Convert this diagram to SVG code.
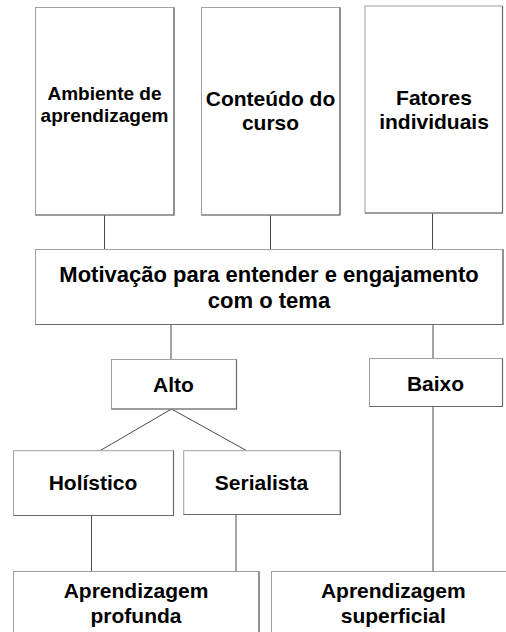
<svg xmlns="http://www.w3.org/2000/svg" width="506" height="632" viewBox="0 0 506 632">
<style>
.box{fill:#fff;stroke:#a0a0a0;stroke-width:1}
.sh{fill:none;stroke:#6a6a6a;stroke-width:1.2}
.t{font-family:"Liberation Sans",Arial,sans-serif;font-weight:bold;fill:#000;text-anchor:middle}
.c{stroke:#4a4a4a;stroke-width:1;fill:none}
</style>
<rect width="506" height="632" fill="#fff"/>
<g id="connectors">
<line class="c" x1="104.5" y1="215" x2="104.5" y2="249.5"/>
<line class="c" x1="270.5" y1="215" x2="270.5" y2="249.5"/>
<line class="c" x1="432.5" y1="213" x2="432.5" y2="249.5"/>
<line class="c" x1="171" y1="324.5" x2="171" y2="359.5"/>
<line class="c" x1="433" y1="324.5" x2="433" y2="358.5"/>
<line class="c" x1="171.5" y1="409" x2="100" y2="450.7"/>
<line class="c" x1="171.5" y1="409" x2="246.7" y2="450.7"/>
<line class="c" x1="91.5" y1="515.5" x2="91.5" y2="571.5"/>
<line class="c" x1="236" y1="514.5" x2="236" y2="571.5"/>
<line class="c" x1="433" y1="406.5" x2="433" y2="571.5"/>
</g>
<g id="ambiente">
<rect class="box" x="35.5" y="7.5" width="138.5" height="207.5"/>
<path class="sh" d="M174 7.5V215H35.5"/>
<text class="t" font-size="19" x="104.5" y="100">Ambiente de</text>
<text class="t" font-size="19" x="104.5" y="121.5">aprendizagem</text>
</g>
<g id="conteudo">
<rect class="box" x="201.5" y="7.5" width="138.5" height="207.5"/>
<path class="sh" d="M340 7.5V215H201.5"/>
<text class="t" font-size="21" x="270.5" y="106">Conteúdo do</text>
<text class="t" font-size="21" x="270.5" y="129.5">curso</text>
</g>
<g id="fatores">
<rect class="box" x="365" y="6" width="137.5" height="207"/>
<path class="sh" d="M502.5 6V213H365"/>
<text class="t" font-size="21" x="434" y="105">Fatores</text>
<text class="t" font-size="21" x="434" y="129">individuais</text>
</g>
<g id="motivacao">
<rect class="box" x="35.5" y="249.5" width="467.5" height="75"/>
<path class="sh" d="M503 249.5V324.5H35.5"/>
<text class="t" font-size="22" x="269" y="281.7">Motivação para entender e engajamento</text>
<text class="t" font-size="22" x="269" y="308">com o tema</text>
</g>
<g id="alto">
<rect class="box" x="111.5" y="359.5" width="125" height="49.5"/>
<path class="sh" d="M236.5 359.5V409H111.5"/>
<text class="t" font-size="21" x="173.5" y="391.7">Alto</text>
</g>
<g id="baixo">
<rect class="box" x="369.5" y="358.5" width="133" height="48"/>
<path class="sh" d="M502.5 358.5V406.5H369.5"/>
<text class="t" font-size="21" x="435.5" y="390.5">Baixo</text>
</g>
<g id="holistico">
<rect class="box" x="13.5" y="450.7" width="160" height="64.8"/>
<path class="sh" d="M173.5 450.7V515.5H13.5"/>
<text class="t" font-size="21" x="93" y="490">Holístico</text>
</g>
<g id="serialista">
<rect class="box" x="183.7" y="450.7" width="156.6" height="63.8"/>
<path class="sh" d="M340.3 450.7V514.5H183.7"/>
<text class="t" font-size="21" x="261.5" y="490">Serialista</text>
</g>
<g id="profunda">
<rect class="box" x="13.5" y="571.5" width="245.5" height="80"/>
<path class="sh" d="M259 571.5V652"/>
<text class="t" font-size="21" x="136" y="598">Aprendizagem</text>
<text class="t" font-size="21" x="136" y="623">profunda</text>
</g>
<g id="superficial">
<rect class="box" x="271.5" y="571.5" width="250" height="80"/>
<text class="t" font-size="21" x="393.3" y="598">Aprendizagem</text>
<text class="t" font-size="21" x="393.3" y="623">superficial</text>
</g>
</svg>
